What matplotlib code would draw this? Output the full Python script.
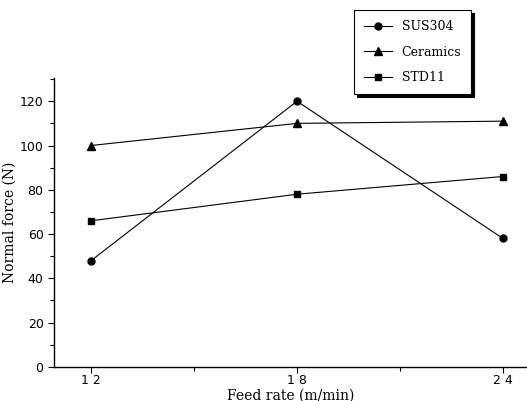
import numpy as np
import matplotlib.pyplot as plt
from matplotlib.ticker import MultipleLocator

# data
feed = [12, 18, 24]
sus304 = [48, 120, 58]
ceramics = [100, 110, 111]
std11 = [66, 78, 86]

fig = plt.figure(figsize=(5.27, 4.01), dpi=100)
ax = fig.add_axes([0.1025, 0.085, 0.8975, 0.72])

ax.plot(feed, sus304, 'k-', marker='o', ms=5, lw=0.8, label='SUS304')
ax.plot(feed, ceramics, 'k-', marker='^', ms=6, lw=0.8, label='Ceramics')
ax.plot(feed, std11, 'k-', marker='s', ms=5, lw=0.8, label='STD11')

ax.set_xlim(10.92, 24.7)
ax.set_ylim(0, 130.4)
ax.set_xticks([12, 18, 24])
ax.set_xticklabels(['1 2', '1 8', '2 4'])
ax.xaxis.set_minor_locator(MultipleLocator(3))
ax.yaxis.set_major_locator(MultipleLocator(20))
ax.yaxis.set_minor_locator(MultipleLocator(10))
ax.tick_params(which='both', direction='out', labelsize=9, width=0.8)
ax.tick_params(which='major', length=4)
ax.tick_params(which='minor', length=3)
ax.tick_params(axis='x', pad=1)
for s in ['top', 'right']:
    ax.spines[s].set_visible(False)
for s in ['left', 'bottom']:
    ax.spines[s].set_linewidth(1.0)

ax.set_xlabel('Feed rate (m/min)', family='serif', fontsize=10, labelpad=1)
ax.set_ylabel('Normal force (N)', family='serif', fontsize=10, labelpad=2)

leg = fig.legend(loc='upper left', bbox_to_anchor=(0.66, 0.99), frameon=True,
                 fancybox=False, edgecolor='black', framealpha=1,
                 shadow={'ox': 2, 'oy': -2, 'color': 'black', 'alpha': 1},
                 prop={'family': 'serif', 'size': 9}, handlelength=2.2,
                 labelspacing=1.0, borderpad=0.8)
leg.get_frame().set_linewidth(0.8)

fig.savefig('out.png', dpi=100)
